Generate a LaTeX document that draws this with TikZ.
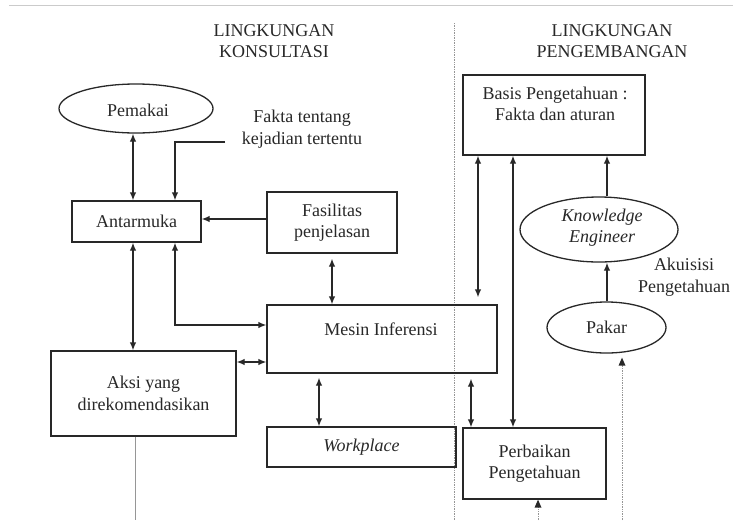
\documentclass[tikz,border=0pt]{standalone}
\usepackage{fontspec}
\setmainfont{Liberation Serif}
\usetikzlibrary{arrows.meta,shapes.geometric,calc}
\definecolor{ink}{RGB}{40,40,40}
\definecolor{faint}{RGB}{150,150,150}
\begin{document}
\begin{tikzpicture}[x=1pt,y=-1pt,
  every node/.style={font=\fontsize{18}{21.5}\selectfont, text=ink, align=center, inner sep=0pt},
  box/.style={draw=ink, line width=1.3pt, rectangle},
  oval/.style={draw=ink, line width=1.3pt, ellipse},
  conn/.style={draw=ink, line width=1.3pt},
  tip/.style={-{Latex[length=8pt,width=6.5pt]}},
  tips/.style={{Latex[length=8pt,width=6.5pt]}-{Latex[length=8pt,width=6.5pt]}},
  thin/.style={draw=faint, line width=0.6pt},
  dotln/.style={draw=faint, line width=0.7pt, densely dotted}
]
\useasboundingbox (0,0) rectangle (733,520);
\fill[white] (0,0) rectangle (733,520);
\draw[draw=faint!50, line width=1pt] (9,5) -- (733,5);

% headers
\node (h1) at (274,41) {LINGKUNGAN\\KONSULTASI};
\node (h2) at (612,41) {LINGKUNGAN\\PENGEMBANGAN};
\draw[dotln] (454,23) -- (454,520);

% column / row helpers
\coordinate (c133) at (133,0);
\coordinate (c175) at (175,0);
\coordinate (c319) at (319,0);
\coordinate (c471) at (471,0);
\coordinate (c478) at (478,0);
\coordinate (c513) at (513,0);
\coordinate (c607) at (607,0);
\coordinate (r219) at (0,219);
\coordinate (r325) at (0,325);
\coordinate (r362) at (0,362);

% nodes
\node[oval, minimum width=154pt, minimum height=49pt] (pem) at (136,108.5) {};
\node (pemt) at (138,110) {Pemakai};
\node (fakta) at (302,129) {Fakta tentang\\kejadian tertentu};
\coordinate (fk) at (225,142);
\node[box, minimum width=129pt, minimum height=41pt] (antar) at (136.5,221.5) {Antarmuka};
\node[box, minimum width=130pt, minimum height=61pt] (fasil) at (332,222.5) {Fasilitas\\penjelasan};
\node[box, minimum width=230pt, minimum height=68pt] (mesin) at (382,339) {};
\node (mesint) at (381,329) {Mesin Inferensi};
\node[box, minimum width=185pt, minimum height=85pt] (aksi) at (143.5,393.5) {Aksi yang\\direkomendasikan};
\node[box, minimum width=189pt, minimum height=40pt] (work) at (361.5,447) {\itshape Workplace};
\node[box, minimum width=182pt, minimum height=80pt] (basis) at (554,115) {};
\node (basist) at (555,104) {Basis Pengetahuan :\\Fakta dan aturan};
\node[box, minimum width=143pt, minimum height=71pt] (perb) at (534.5,463.5) {Perbaikan\\Pengetahuan};
\node[oval, minimum width=158pt, minimum height=65pt] (ke) at (599,229.5) {};
\node (ket) at (602,227.5) {\itshape Knowledge\\\itshape Engineer};
\node[oval, minimum width=119pt, minimum height=51pt] (pakar) at (606.5,327.5) {Pakar};
\node (akuisisi) at (684,277) {Akuisisi\\Pengetahuan};

% connectors
\draw[conn, tips] (pem.south -| c133) -- (antar.north -| c133);
\draw[conn, tip] (fk) -| (antar.north -| c175);
\draw[conn, tip] (fasil.west |- r219) -- (antar.east |- r219);
\draw[conn, tips, shorten <=5pt] (fasil.south) -- (mesin.north -| fasil.south);
\draw[conn, tips] (antar.south -| c175) |- (mesin.west |- r325);
\draw[conn, tips] (antar.south -| c133) -- (aksi.north -| c133);
\draw[conn, tips] (aksi.east |- r362) -- (mesin.west |- r362);
\draw[conn, tips, shorten <=4pt] (mesin.south -| c319) -- (work.north -| c319);
\draw[conn, tips, shorten <=5pt] (mesin.south -| c471) -- (perb.north -| c471);
\draw[conn, tips, shorten >=7pt] (basis.south -| c478) -- (mesin.north -| c478);
\draw[conn, tips] (basis.south -| c513) -- (perb.north -| c513);
\draw[conn, tip] (ke.north -| c607) -- (basis.south -| c607);
\draw[conn, tip] (pakar.north -| c607) -- (ke.south -| c607);

% faint lines at bottom
\coordinate (b135) at (135,520);
\coordinate (b538) at (538,520);
\coordinate (b622) at (622,520);
\draw[thin] (aksi.south -| b135) -- (b135);
\draw[dotln] (b538) -- (perb.south -| b538);
\draw[dotln] (b622) -- ($(pakar.south -| b622)+(0,6)$);
\fill[ink] (perb.south -| b538) -- ++(-3.5,8) -- ++(7,0) -- cycle;
\fill[ink] ($(pakar.south -| b622)+(0,4)$) -- ++(-3.5,8) -- ++(7,0) -- cycle;
\end{tikzpicture}
\end{document}
